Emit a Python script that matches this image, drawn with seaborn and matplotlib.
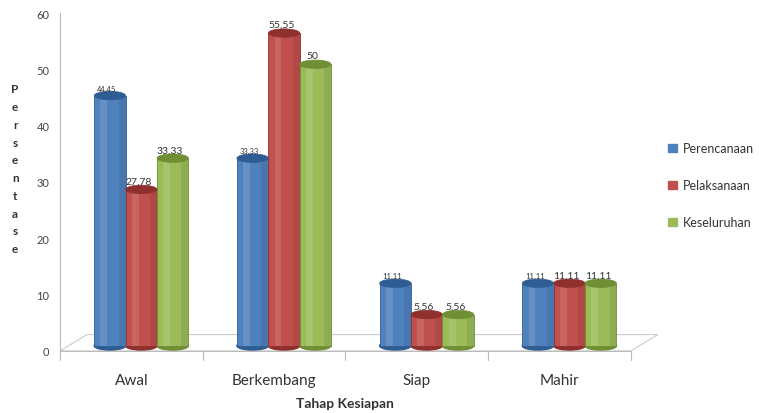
import numpy as np, pandas as pd
import matplotlib; matplotlib.use("Agg")
import matplotlib.pyplot as plt
from matplotlib.patches import Ellipse, Polygon, Rectangle
import seaborn as sns

CATS = ['Awal', 'Berkembang', 'Siap', 'Mahir']
SERIES = ['Perencanaan', 'Pelaksanaan', 'Keseluruhan']
perencanaan = [44.45, 33.33, 11.11, 11.11]
pelaksanaan = [27.78, 55.55, 5.56, 11.11]
keseluruhan = [33.33, 50, 5.56, 11.11]
LABELS = {'Perencanaan': ['44,45', '33,33', '11,11', '11,11'],
          'Pelaksanaan': ['27,78', '55,55', '5,56', '11,11'],
          'Keseluruhan': ['33,33', '50', '5,56', '11,11']}
COLORS = ['#4f81bd', '#c0504d', '#9bbb59']
EDGES = ['#2f5d93', '#8f302d', '#6f8f34']

df = pd.DataFrame({'cat': CATS * 3, 'series': np.repeat(SERIES, 4),
                   'val': perencanaan + pelaksanaan + keseluruhan})

sns.set_style("white")
plt.rcParams['font.family'] = ['Lato', 'DejaVu Sans']
fig = plt.figure(figsize=(7.59, 4.14), dpi=100)
ax = fig.add_axes([0.079, 0.15, 0.752, 0.816])
sns.barplot(data=df, x='cat', y='val', hue='series', order=CATS, hue_order=SERIES,
            palette=COLORS, width=0.66, gap=0.0, ax=ax, legend=False, saturation=1)
ax.set_ylim(0, 60); ax.set_xlim(-0.5, 3.5)
ax.set_yticks(range(0, 61, 10))
ax.tick_params(axis='y', labelsize=8, labelcolor='#444444', length=4, color='#bbbbbb')
ax.tick_params(axis='x', labelsize=11, labelcolor='#333333', length=0, pad=16)
ax.set_xticks(range(4)); ax.set_xticklabels(CATS)
for xb in [-0.5, 0.5, 1.5, 2.5, 3.5]:
    ax.plot([xb, xb], [0, -1.6], color='#bbbbbb', lw=0.8, clip_on=False)
for s in ['top', 'right']:
    ax.spines[s].set_visible(False)
for s in ['left', 'bottom']:
    ax.spines[s].set_color('#bbbbbb')

# 3D floor outline
DX, DY = 0.19, 2.9
ax.add_patch(Polygon([(-0.5, 0), (-0.5 + DX, DY), (3.5 + DX, DY), (3.5, 0)], closed=True,
                     facecolor='none', edgecolor='#cccccc', lw=0.8, clip_on=False, zorder=0.5))

# cylinder look: shift bars into the depth of the floor, add caps and bases
OX, OY = 0.07, 0.9
for i, cont in enumerate(ax.containers):
    for j, p in enumerate(cont):
        p.set_x(p.get_x() + OX); p.set_y(OY)
        x, w, h = p.get_x(), p.get_width(), p.get_height()
        z = p.get_zorder()
        p.set_edgecolor(EDGES[i]); p.set_linewidth(0.6)
        ax.add_patch(Ellipse((x + w / 2, OY), w, 1.5, color=EDGES[i], zorder=z - 0.1))
        ax.add_patch(Ellipse((x + w / 2, OY + h), w, 1.5, facecolor=EDGES[i], edgecolor=EDGES[i],
                             lw=0.5, zorder=z + 0.1))
        ax.add_patch(Rectangle((x + w * 0.2, OY), w * 0.22, h, color='white', alpha=0.12,
                               lw=0, zorder=z + 0.05))
        ax.add_patch(Rectangle((x + w * 0.78, OY), w * 0.22, h, color='black', alpha=0.08,
                               lw=0, zorder=z + 0.05))
        ax.text(x + w / 2 - 0.02, OY + h + 0.7, LABELS[SERIES[i]][j], ha='center', va='bottom',
                fontsize=7.5 if i else 5.5, color='#333333')

ax.set_xlabel('Tahap Kesiapan', fontsize=10, fontweight='bold', color='#333333', labelpad=7)
ax.set_ylabel('')
fig.text(0.02, 0.59, '\n'.join('Persentase'), ha='center', va='center', fontsize=8.5,
         fontweight='bold', color='#333333', linespacing=1.75)

handles = [plt.Rectangle((0, 0), 1, 1, color=c) for c in COLORS]
fig.legend(handles, SERIES, loc='center left', bbox_to_anchor=(0.865, 0.55), frameon=False,
           fontsize=9, handlelength=0.7, handleheight=0.7, labelspacing=2.0, handletextpad=0.5,
           labelcolor='#333333')

fig.savefig('out.png', dpi=100)
